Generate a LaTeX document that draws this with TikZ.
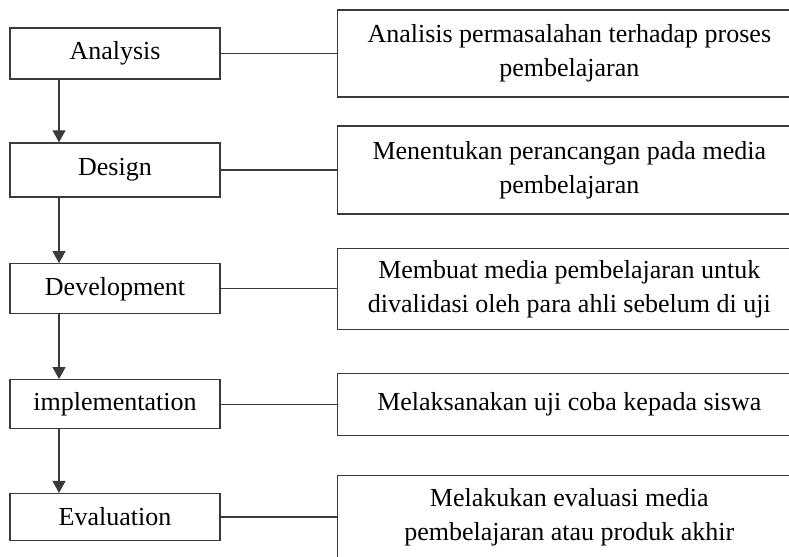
\documentclass[tikz,border=0pt]{standalone}
\usepackage{fontspec}
\setmainfont{Liberation Serif}
\usepackage{xcolor}
\usepackage{tikz}
\usetikzlibrary{arrows.meta,positioning}
\definecolor{ink}{HTML}{000000}
\definecolor{rule}{HTML}{3A3A3A}
\tikzset{
  stagebox/.style={draw=rule,line width=0.65pt,fill=white,align=center,font=\fontsize{13}{17}\selectfont,text=ink,minimum width=105pt,minimum height=25pt,inner sep=0pt},
  descbox/.style={draw=rule,line width=0.65pt,fill=white,align=center,font=\fontsize{13}{17}\selectfont,text=ink,minimum width=232pt,inner sep=0pt},
  arr/.style={-{Triangle[length=6pt,width=6.5pt]},draw=rule,line width=0.65pt},
  link/.style={draw=rule,line width=0.65pt},
}

\begin{document}
\begin{tikzpicture}[node distance=33pt and 58pt]
  \useasboundingbox (0,0) rectangle (394.5pt,-278.5pt);
  \clip (0,0) rectangle (394.5pt,-278.5pt);
  % ADDIE stages
  \node[stagebox,minimum height=25.5pt] (an) at (57.5pt,-26.75pt) {Analysis};
  \node[stagebox,minimum height=27pt,below=31.3pt of an] (de) {Design};
  \node[stagebox,below=32.8pt of de] (dv) {Development};
  \node[stagebox,minimum height=24.5pt,below=32.3pt of dv] (im) {implementation};
  \node[stagebox,minimum height=23.5pt,below=31.8pt of im] (ev) {Evaluation};
  % descriptions
  \node[descbox,minimum height=43.5pt,right=of an] (anx) {Analisis permasalahan terhadap proses\\pembelajaran};
  \node[descbox,minimum height=44pt,right=of de] (dex) {Menentukan perancangan pada media\\pembelajaran};
  \node[descbox,minimum height=40.5pt,right=of dv] (dvx) {Membuat media pembelajaran untuk\\divalidasi oleh para ahli sebelum di uji};
  \node[descbox,minimum height=31pt,right=of im] (imx) {Melaksanakan uji coba kepada siswa};
  \node[descbox,minimum height=41.5pt,right=of ev] (evx) {Melakukan evaluasi media\\pembelajaran atau produk akhir};
  \foreach \a/\b in {an/de,de/dv,dv/im,im/ev}
    \draw[arr] ([xshift=-28pt]\a.south) -- ([xshift=-28pt]\b.north);
  \foreach \a in {an,de,dv,im,ev}
    \draw[link] (\a.east) -- (\a x.west);
\end{tikzpicture}
\end{document}
